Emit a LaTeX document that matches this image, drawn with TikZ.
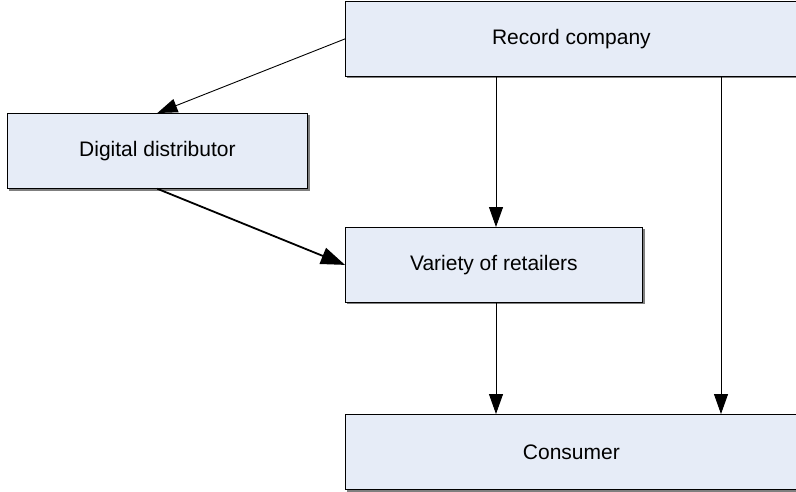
\documentclass[tikz,border=0pt]{standalone}
\usepackage{fontspec}
\setmainfont{Liberation Sans}
\usetikzlibrary{calc,arrows.meta}
\definecolor{boxfill}{HTML}{E6ECF7}
\definecolor{boxshade}{HTML}{7F7F7F}
\begin{document}
\begin{tikzpicture}[x=1pt,y=-1pt,
  box/.style={draw=black, line width=0.8pt, fill=boxfill, rectangle, inner sep=0pt,
    anchor=north west, font=\fontsize{21}{25}\selectfont},
  shade/.style={fill=boxshade, draw=none},
  flow/.style={draw=black, line width=0.9pt, -{Triangle[length=20pt,width=14pt]}},
  boldflow/.style={draw=black, line width=1.8pt, -{Triangle[length=24pt,width=17pt]}}]
\useasboundingbox (0,0) rectangle (796,491);
% drop shadows
\fill[shade] (347,3) rectangle (800,77.5);
\fill[shade] (9,115) rectangle (309.5,190.5);
\fill[shade] (347,229) rectangle (644.5,303.5);
\fill[shade] (347,416) rectangle (800,491.5);
% boxes
\node[box, minimum width=452pt, minimum height=75pt] (rc) at (345,1) {Record company};
\node[box, minimum width=300pt, minimum height=75pt] (dd) at (7,113) {Digital distributor};
\node[box, minimum width=297pt, minimum height=75pt] (vr) at (345,227) {Variety of retailers};
\node[box, minimum width=452pt, minimum height=75pt] (co) at (345,414) {Consumer};
% connectors
\coordinate (rcA) at ($(rc.south west)+(151,0)$);
\coordinate (rcB) at ($(rc.south west)+(376,0)$);
\draw[flow] (rc.west) -- (dd.north);
\draw[boldflow] (dd.south) -- (vr.west);
\draw[flow] (rcA) -- (rcA |- vr.north);
\draw[flow] (rcA |- vr.south) -- (rcA |- co.north);
\draw[flow] (rcB) -- (rcB |- co.north);
\end{tikzpicture}
\end{document}
